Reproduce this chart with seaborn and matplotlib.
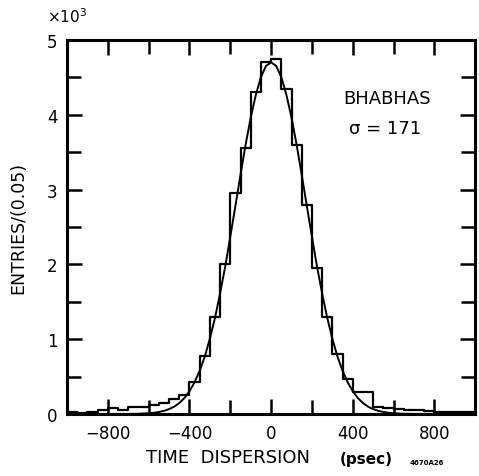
import numpy as np
import pandas as pd
import matplotlib
matplotlib.use("Agg")
import matplotlib.pyplot as plt
from matplotlib.ticker import MultipleLocator
import seaborn as sns

# ---- data ----
bin_edges = list(range(-1000, 1001, 50))  # 0.05 ns bins (psec)
counts = [20, 15, 20, 60, 80, 60, 90, 100, 120, 150,
          200, 250, 430, 780, 1300, 2000, 2950, 3550, 4300, 4700,
          4750, 4350, 3600, 2800, 1950, 1300, 800, 470, 300, 300,
          100, 80, 70, 60, 50, 40, 30, 30, 20, 20]

fit_x = [-1000, -700, -650, -600, -575, -550, -525, -500, -475, -450, -425, -400,
         -375, -350, -325, -300, -275, -250, -225, -200, -175, -150, -125, -100,
         -75, -50, -25, 0, 25, 50, 75, 100, 125, 150, 175, 200, 225, 250, 275,
         300, 325, 350, 375, 400, 425, 450, 475, 500, 525, 550, 575, 600, 650,
         700, 1000]
fit_y = [0, 1, 3, 10, 16, 27, 42, 65, 98, 147, 213, 305,
         425, 579, 768, 1009, 1285, 1614, 1970, 2372, 2780, 3199, 3600, 3961,
         4266, 4504, 4654, 4700, 4654, 4504, 4266, 3961, 3600, 3199, 2780, 2372,
         1970, 1614, 1285, 1009, 768, 579, 425, 305, 213, 147, 98, 65, 42, 27,
         16, 10, 3, 1, 0]

x_major = [-800, -400, 0, 400, 800]
y_ticks = [0, 1000, 2000, 3000, 4000, 5000]
y_ticklabels = ["0", "1", "2", "3", "4", "5"]

centers = [(bin_edges[i] + bin_edges[i + 1]) / 2 for i in range(len(counts))]
hist_df = pd.DataFrame({"t": centers, "n": counts})
fit_df = pd.DataFrame({"t": fit_x, "n": fit_y})

sns.set_style("ticks")
plt.rcParams["font.family"] = ["DejaVu Sans"]
plt.rcParams["xtick.direction"] = "in"
plt.rcParams["ytick.direction"] = "in"
plt.rcParams["text.color"] = "black"
plt.rcParams["axes.labelcolor"] = "black"
plt.rcParams["xtick.color"] = "black"
plt.rcParams["ytick.color"] = "black"

fig = plt.figure(figsize=(4.79, 4.77), dpi=100)
ax = fig.add_axes([0.140, 0.130, 0.852, 0.784])

sns.histplot(data=hist_df, x="t", weights="n", bins=bin_edges, element="step",
             fill=False, color="black", linewidth=1.6, ax=ax)
sns.lineplot(data=fit_df, x="t", y="n", color="black", linewidth=1.4, ax=ax)

ax.set_xlim(-1000, 1000)
ax.set_ylim(0, 5000)

ax.set_xticks(x_major)
ax.set_xticklabels([str(v) if v >= 0 else "\u2212" + str(-v) for v in x_major])
ax.xaxis.set_minor_locator(MultipleLocator(200))
ax.set_yticks(y_ticks)
ax.set_yticklabels(y_ticklabels)
ax.yaxis.set_minor_locator(MultipleLocator(500))

ax.tick_params(which="both", top=True, right=True, direction="in",
               width=1.8, length=11, labelsize=12, pad=7, color="black",
               labelcolor="black")
ax.tick_params(which="minor", length=10)
for s in ax.spines.values():
    s.set_linewidth(2.2)
    s.set_color("black")

ax.set_xlabel("")
ax.set_ylabel("ENTRIES/(0.05)", fontsize=12.5, labelpad=14, color="black")

fig.text(0.305, 0.022, "TIME  DISPERSION", fontsize=13, ha="left", va="bottom")
fig.text(0.71, 0.022, "(psec)", fontsize=11, fontweight="bold", ha="left", va="bottom")
fig.text(0.855, 0.024, "4670A26", fontsize=5, fontweight="bold", ha="left", va="bottom")
fig.text(0.098, 0.945, "\u00d710$^3$", fontsize=11, ha="left", va="bottom")

ax.text(0.785, 0.845, "BHABHAS", transform=ax.transAxes, fontsize=13,
        ha="center", va="center")
ax.text(0.780, 0.765, "\u03c3 = 171", transform=ax.transAxes, fontsize=13,
        ha="center", va="center")

fig.savefig("out.png", dpi=100, facecolor="white")
